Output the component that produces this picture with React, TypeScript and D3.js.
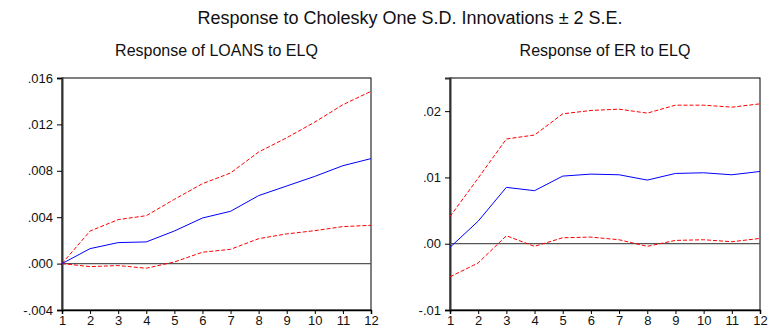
import { useRef, useEffect } from 'react';
import * as d3 from 'd3';

const W = 783;
const H = 333;

const periods = [1, 2, 3, 4, 5, 6, 7, 8, 9, 10, 11, 12];

// Response of LOANS to ELQ
const loansResp = [0, 0.00129, 0.00181, 0.00187, 0.00281, 0.00393, 0.00451, 0.00586, 0.00669, 0.00752, 0.00844, 0.00905];
const loansUpper = [0, 0.00281, 0.00379, 0.00413, 0.00554, 0.00689, 0.00781, 0.00962, 0.01085, 0.0122, 0.0137, 0.01485];
const loansLower = [0, -0.00026, -0.00017, -0.0004, 0.00014, 0.00098, 0.00123, 0.00215, 0.00256, 0.00284, 0.00319, 0.0033];
const loansTicks = [-0.004, 0, 0.004, 0.008, 0.012, 0.016];

// Response of ER to ELQ
const erResp = [-0.00055, 0.0034, 0.0085, 0.008, 0.0102, 0.0105, 0.0104, 0.0096, 0.0106, 0.0107, 0.0104, 0.0109];
const erUpper = [0.0041, 0.0099, 0.0158, 0.0164, 0.0196, 0.0201, 0.0203, 0.0197, 0.0209, 0.0209, 0.0206, 0.0211];
const erLower = [-0.005, -0.0029, 0.0012, -0.0004, 0.0009, 0.001, 0.0006, -0.0004, 0.0005, 0.0006, 0.0003, 0.0008];
const erTicks = [-0.01, 0, 0.01, 0.02];

const panels = [
  {
    title: 'Response of LOANS to ELQ',
    resp: loansResp, upper: loansUpper, lower: loansLower,
    domain: [-0.004, 0.016], ticks: loansTicks, fmt: '.3f',
    left: 62, right: 371,
  },
  {
    title: 'Response of ER to ELQ',
    resp: erResp, upper: erUpper, lower: erLower,
    domain: [-0.01, 0.025], ticks: erTicks, fmt: '.2f',
    left: 450, right: 760,
  },
];

const FONT = 'Arial, "Liberation Sans", sans-serif';

export default function App() {
  const svgRef = useRef<SVGSVGElement | null>(null);

  useEffect(() => {
    const svg = d3.select(svgRef.current);
    svg.selectAll('*').remove();

    svg.append('text')
      .attr('x', 410).attr('y', 24)
      .attr('text-anchor', 'middle')
      .attr('font-family', FONT).attr('font-size', 18)
      .attr('fill', '#111')
      .text('Response to Cholesky One S.D. Innovations \u00b1 2 S.E.');

    const top = 78;
    const bottom = 310;

    panels.forEach((p) => {
      const x = d3.scaleLinear().domain([1, 12]).range([p.left, p.right]);
      const y = d3.scaleLinear().domain(p.domain).range([bottom, top]);
      const g = svg.append('g');

      g.append('text')
        .attr('x', (p.left + p.right) / 2).attr('y', 56)
        .attr('text-anchor', 'middle')
        .attr('font-family', FONT).attr('font-size', 16)
        .attr('fill', '#111')
        .text(p.title);

      // frame
      g.append('rect')
        .attr('x', p.left).attr('y', top)
        .attr('width', p.right - p.left).attr('height', bottom - top)
        .attr('fill', 'none').attr('stroke', '#000').attr('stroke-width', 1);

      const fmt = d3.format(p.fmt);
      const yAxis = g.append('g')
        .attr('transform', `translate(${p.left},0)`)
        .call(d3.axisLeft(y).tickValues(p.ticks).tickSize(5).tickPadding(4)
          .tickFormat((d) => fmt(d as number).replace('\u2212', '-').replace('0.', '.')));
      yAxis.select('.domain').attr('stroke', '#333').attr('stroke-width', 2);
      yAxis.selectAll('text').attr('font-family', FONT).attr('font-size', 13).attr('fill', '#111');

      const xAxis = g.append('g')
        .attr('transform', `translate(0,${bottom})`)
        .call(d3.axisBottom(x).tickValues(periods).tickSize(4).tickPadding(2).tickFormat(d3.format('d')));
      xAxis.select('.domain').attr('stroke', '#000').attr('stroke-width', 1.5);
      xAxis.selectAll('text').attr('font-family', FONT).attr('font-size', 13).attr('fill', '#111');

      // zero line
      g.append('line')
        .attr('x1', p.left).attr('x2', p.right)
        .attr('y1', y(0)).attr('y2', y(0))
        .attr('stroke', '#555').attr('stroke-width', 1.3);

      const line = d3.line<number>()
        .x((_, i) => x(periods[i]))
        .y((d) => y(d));

      [p.upper, p.lower].forEach((band) => {
        g.append('path')
          .attr('d', line(band))
          .attr('fill', 'none')
          .attr('stroke', '#ff0000')
          .attr('stroke-width', 1)
          .attr('stroke-dasharray', '4,2');
      });

      g.append('path')
        .attr('d', line(p.resp))
        .attr('fill', 'none')
        .attr('stroke', '#0000ff')
        .attr('stroke-width', 1);
    });
  }, []);

  return (
    <svg
      ref={svgRef}
      width={W}
      height={H}
      style={{ position: 'absolute', left: 0, top: 0, background: '#fff' }}
    />
  );
}
